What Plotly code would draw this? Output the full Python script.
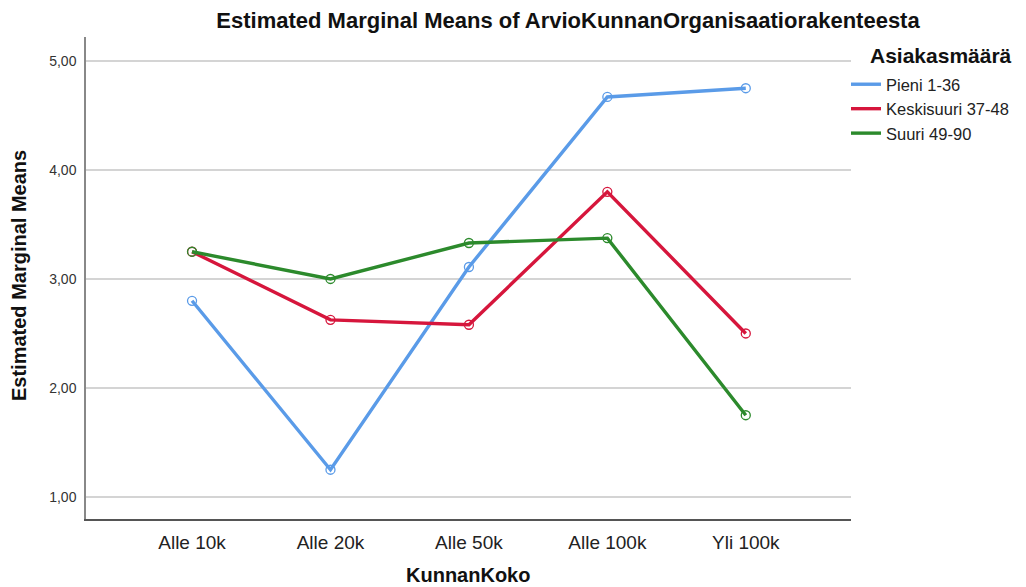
import plotly.graph_objects as go

categories = ["Alle 10k", "Alle 20k", "Alle 50k", "Alle 100k", "Yli 100k"]
series_names = ["Pieni 1-36", "Keskisuuri 37-48", "Suuri 49-90"]
pieni = [2.80, 1.25, 3.11, 4.67, 4.75]
keskisuuri = [3.25, 2.625, 2.58, 3.80, 2.50]
suuri = [3.25, 3.00, 3.33, 3.375, 1.75]
colors = ["#5A9BE8", "#D6163C", "#2C8A2C"]
y_ticks = [1, 2, 3, 4, 5]

FONT = "Liberation Sans, Arial, sans-serif"
W, H = 1026, 587
L, R, T, B = 86, 851, 37, 519

fig = go.Figure()
for name, vals, col in zip(series_names, [pieni, keskisuuri, suuri], colors):
    fig.add_trace(go.Scatter(
        x=list(range(len(categories))), y=vals, name=name,
        mode="lines+markers", showlegend=False, legendgroup=name,
        line=dict(color=col, width=3.4),
        marker=dict(symbol="circle-open", size=9, color=col, line=dict(width=1.3)),
    ))
for name, col in zip(series_names, colors):
    fig.add_trace(go.Scatter(
        x=[None], y=[None], name=name, mode="lines", legendgroup=name,
        line=dict(color=col, width=3.4),
    ))

fig.update_layout(
    width=W, height=H,
    paper_bgcolor="white", plot_bgcolor="white",
    margin=dict(l=L, r=W - R, t=T, b=H - B, autoexpand=False),
    separators=", ",
    font=dict(family=FONT, color="#111"),
    title=dict(text="<b>Estimated Marginal Means of ArvioKunnanOrganisaatiorakenteesta</b>",
               x=568 / W, xanchor="center", y=1 - 20 / H, yanchor="middle",
               font=dict(size=22, family=FONT, color="#111")),
    legend=dict(
        x=(846 - L) / (R - L), xanchor="left", y=(B - 67) / (B - T), yanchor="top",
        font=dict(size=16.5, family=FONT, color="#222"),
        tracegroupgap=0, bgcolor="rgba(0,0,0,0)",
    ),
    showlegend=True,
    annotations=[
        dict(text="<b>Asiakasmäärä</b>", xref="paper", yref="paper",
             x=(868 - L) / (R - L), y=(B - 56) / (B - T), xanchor="left", yanchor="middle",
             showarrow=False, font=dict(size=21, family=FONT, color="#111")),
        dict(text="<b>KunnanKoko</b>", xref="paper", yref="paper",
             x=(468 - L) / (R - L), y=(B - 575) / (B - T), xanchor="center", yanchor="middle",
             showarrow=False, font=dict(size=20, family=FONT, color="#111")),
        dict(text="<b>Estimated Marginal Means</b>", xref="paper", yref="paper",
             x=(19 - L) / (R - L), y=(B - 276) / (B - T), xanchor="center", yanchor="middle",
             textangle=-90, showarrow=False, font=dict(size=20, family=FONT, color="#111")),
    ],
)
fig.update_xaxes(
    range=[-0.766, 4.76], tickvals=list(range(len(categories))), ticktext=categories,
    showgrid=False, zeroline=False, showline=True, linecolor="#555", linewidth=1.5,
    ticks="", ticklabelstandoff=5, automargin=False,
    tickfont=dict(size=19, family=FONT, color="#222"),
)
fig.update_yaxes(
    range=[0.798, 5.22], tickvals=y_ticks, tickformat=".2f",
    showgrid=True, gridcolor="#d4d4d4", gridwidth=1.5, zeroline=False,
    showline=True, linecolor="#888", linewidth=1.5,
    ticks="", ticklabelstandoff=5, automargin=False,
    tickfont=dict(size=14, family=FONT, color="#333"),
)
fig.write_html("out.html", config={"displayModeBar": False},
               post_script="document.body.style.margin='0';")
